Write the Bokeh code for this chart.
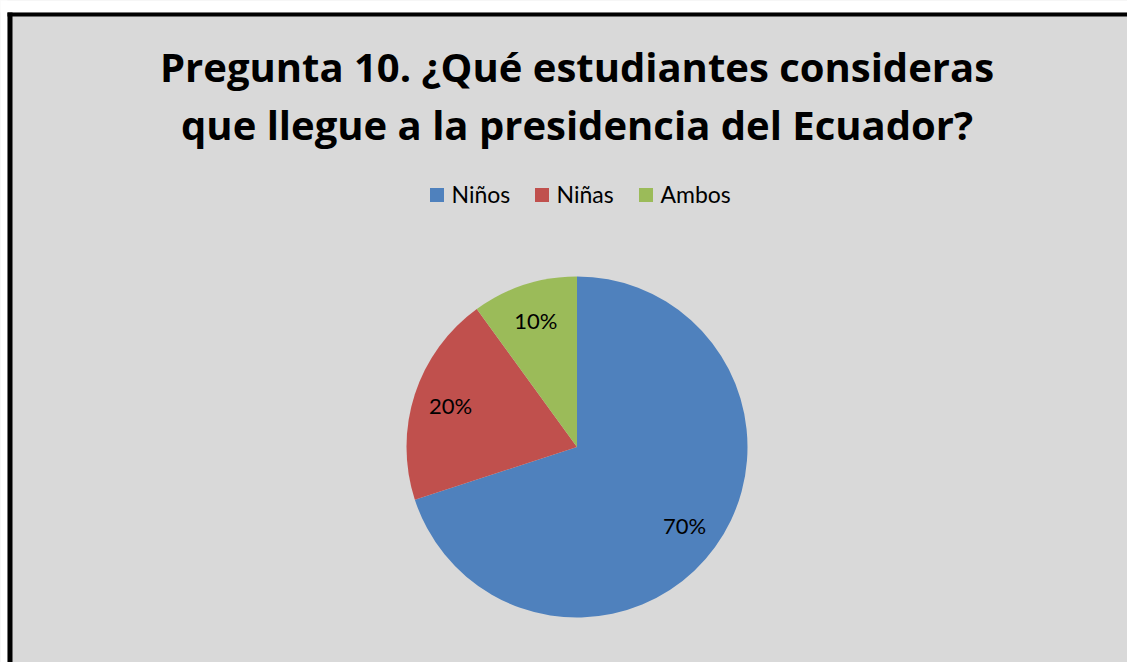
import math
from bokeh.plotting import figure
from bokeh.models import Range1d
from bokeh.core.properties import value
from bokeh.embed import file_html
from bokeh.resources import INLINE

# Data
categories = ["Niños", "Niñas", "Ambos"]
values = [70, 20, 10]
labels = ["70%", "20%", "10%"]
colors = ["#4F81BD", "#C0504D", "#9BBB59"]
title_lines = ["Pregunta 10. ¿Qué estudiantes consideras",
               "que llegue a la presidencia del Ecuador?"]

W, H = 1127, 662
p = figure(width=W, height=H, output_backend="svg", toolbar_location=None,
           x_range=Range1d(0, W), y_range=Range1d(0, H),
           x_axis_type=None, y_axis_type=None, min_border=0)
p.grid.visible = False
p.outline_line_color = None
p.border_fill_color = "#D9D9D9"
p.background_fill_color = "#D9D9D9"

def Y(py):
    return H - py

# chart area: white page margin, black border (left/top), gray fill
p.quad(left=[-50, -50], right=[7, 1300], top=[H + 50, H + 50], bottom=[-50, Y(12)],
       fill_color="white", line_color=None)
p.quad(left=[7, 7], right=[12, 1300], top=[Y(12), Y(12)], bottom=[-50, Y(16)],
       fill_color="black", line_color=None)

# title
p.text(x=[576.5, 576.5], y=[Y(66), Y(124)], text=title_lines,
       text_font=value("Open Sans"), text_font_style="bold", text_font_size="40px",
       text_align="center", text_baseline="middle", text_color="black")

# pie
cx, cy, r = 576.5, Y(446.5), 170.5
total = float(sum(values))
starts, ends, mids = [], [], []
acc = 0.0
for v in values:
    f0 = acc / total
    acc += v
    f1 = acc / total
    starts.append(math.pi / 2 - 2 * math.pi * f0)
    ends.append(math.pi / 2 - 2 * math.pi * f1)
    mids.append(math.pi / 2 - 2 * math.pi * (f0 + f1) / 2)
p.wedge(x=[cx] * len(values), y=[cy] * len(values), radius=r,
        start_angle=starts, end_angle=ends, direction="clock",
        fill_color=colors, line_color=None)

lr = 133
p.text(x=[cx + lr * math.cos(m) for m in mids], y=[cy + lr * math.sin(m) for m in mids],
       text=labels, text_font=value("Lato"), text_font_size="22px",
       text_align="center", text_baseline="middle", text_color="black")

# legend
sq_x = [436.5, 541.5, 645.5]
tx_x = [451, 556, 660]
p.rect(x=sq_x, y=[Y(194.5)] * 3, width=14, height=14, fill_color=colors, line_color=None)
p.text(x=tx_x, y=[Y(193.5)] * 3, text=categories, text_font=value("Lato"),
       text_font_size="23px", text_align="left", text_baseline="middle", text_color="black")

open("out.html", "w").write(file_html(p, INLINE))
